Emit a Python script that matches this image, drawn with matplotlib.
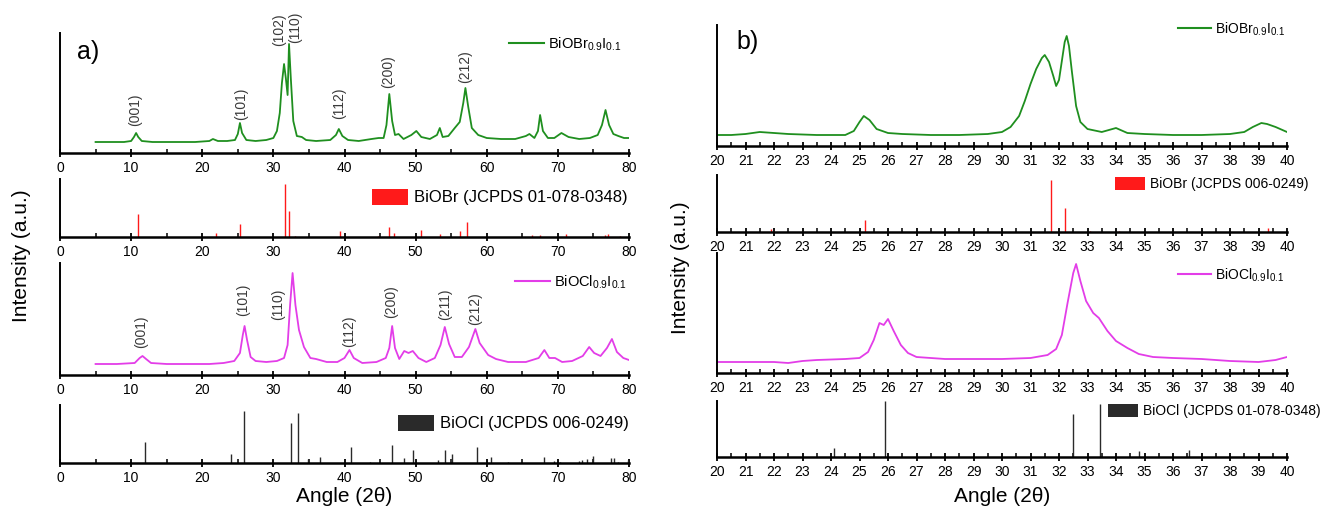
import matplotlib
matplotlib.use('Agg')
import matplotlib.pyplot as plt
from matplotlib.lines import Line2D
from matplotlib.patches import Patch
import numpy as np

plt.rcParams['font.family'] = ['Liberation Sans', 'DejaVu Sans']
plt.rcParams['mathtext.default'] = 'regular'

# ---------------- data ----------------
# panel a) 5-80 deg, measured patterns as (2theta, intensity a.u.)
a_br = [(5, 11), (7, 11), (9, 11), (10.0, 12), (10.4, 16), (10.7, 20), (11.0, 16), (11.5, 12),
        (13, 11), (16, 11), (19, 11), (21.0, 12), (21.5, 14), (22.2, 12), (23.5, 12), (24.6, 13),
        (25.0, 19), (25.3, 30), (25.6, 20), (26.2, 13), (27.5, 12), (29.0, 13), (30.0, 15),
        (30.5, 22), (30.9, 40), (31.2, 70), (31.5, 89), (31.75, 75), (32.0, 58), (32.2, 109),
        (32.45, 75), (32.8, 32), (33.3, 17), (34.0, 16), (34.6, 13), (36.0, 12), (38.0, 13),
        (38.8, 18), (39.2, 24), (39.7, 17), (40.5, 13), (42.0, 12), (43.8, 14), (44.8, 15),
        (45.5, 15), (45.9, 28), (46.3, 59), (46.7, 32), (47.1, 18), (47.6, 19), (48.3, 14),
        (49.4, 18), (50.1, 22), (50.8, 16), (52.0, 14), (53.0, 18), (53.4, 25), (53.8, 16),
        (54.6, 17), (55.5, 25), (56.2, 31), (56.7, 50), (57.0, 65), (57.4, 46), (57.9, 25),
        (58.8, 18), (60.0, 15), (62.0, 14), (64.0, 14), (65.5, 17), (66.0, 19), (66.7, 15),
        (67.2, 22), (67.5, 38), (67.9, 22), (68.6, 15), (69.5, 15), (70.5, 20), (71.5, 16),
        (73.0, 14), (74.5, 15), (75.6, 18), (76.2, 28), (76.7, 43), (77.2, 28), (77.8, 19),
        (78.5, 17), (79.3, 15), (80.0, 15)]

a_cl = [(5, 11), (8, 11), (10.5, 12), (11.2, 17), (11.6, 19), (12.1, 16), (12.8, 12), (15, 11),
        (18, 11), (21, 11), (23, 12), (24.5, 14), (25.3, 22), (25.7, 40), (25.95, 49), (26.3, 35),
        (26.8, 18), (27.5, 14), (29, 13), (30.5, 14), (31.5, 17), (32.0, 30), (32.35, 70),
        (32.7, 102), (33.1, 70), (33.6, 45), (34.3, 28), (35.2, 17), (36.0, 16), (37.5, 13),
        (39.0, 13), (40.0, 17), (40.7, 25), (41.3, 17), (42.5, 12), (44.5, 13), (45.8, 17),
        (46.3, 27), (46.7, 49), (47.1, 27), (47.7, 16), (48.4, 24), (49.0, 22), (49.6, 24),
        (50.4, 17), (51.5, 13), (52.7, 17), (53.5, 30), (54.1, 48), (54.7, 31), (55.5, 18),
        (56.5, 18), (57.5, 28), (58.4, 46), (59.0, 32), (60.2, 20), (61.3, 16), (63.0, 13),
        (65.5, 13), (67.3, 17), (68.1, 25), (68.8, 17), (69.6, 17), (70.6, 13), (72.0, 14),
        (73.5, 19), (74.4, 28), (75.1, 22), (76.0, 19), (76.9, 27), (77.6, 36), (78.3, 23),
        (79.2, 17), (80.0, 15)]

# reference patterns (stick positions and relative heights)
a_br_ref_angle = [10.9, 22.0, 25.3, 31.7, 32.2, 33.1, 39.3, 44.7, 46.2, 46.9,
                  50.7, 53.4, 56.2, 57.2, 66.3, 67.5, 71.1, 76.6, 77.0, 78.8]
a_br_ref_int = [23, 4, 13, 53, 26, 1, 6, 1, 10, 4, 7, 3, 6, 15, 2, 2, 3, 2, 3, 1]

a_cl_ref_angle = [12.0, 24.1, 25.9, 32.5, 33.5, 34.9, 36.5, 40.9, 43.6, 46.7,
                  48.3, 49.7, 53.2, 54.1, 55.1, 58.6, 60.6, 63.0, 68.1, 69.5,
                  70.3, 72.9, 73.4, 74.1, 75.0, 77.4, 77.9, 78.5, 79.9]
a_cl_ref_int = [21, 9, 52, 40, 50, 4, 6, 16, 1, 18, 5, 13, 3, 13, 9, 16, 6, 1, 6, 2,
                1, 2, 3, 4, 7, 5, 5, 1, 3]

# Miller indices (label, x, y)
a_br_hkl = [('(001)', 10.6, 43), ('(101)', 25.4, 49), ('(102)', 30.8, 123), ('(110)', 33.0, 126),
            ('(112)', 39.3, 50), ('(200)', 46.2, 81), ('(212)', 56.9, 86)]
a_cl_hkl = [('(001)', 11.4, 43), ('(101)', 25.8, 75), ('(110)', 30.7, 71), ('(112)', 40.6, 44),
            ('(200)', 46.6, 73), ('(211)', 54.2, 71), ('(212)', 58.4, 66)]

# panel b) zoom 20-40 deg
b_br = [(20.0, 11), (20.5, 11), (21.0, 12), (21.5, 14), (22.0, 13), (22.5, 12), (23.5, 11),
        (24.5, 11), (24.8, 15), (25.0, 24), (25.15, 30), (25.35, 26), (25.6, 17), (26.0, 13),
        (26.5, 12), (27.5, 11), (28.5, 11), (29.5, 12), (30.0, 14), (30.3, 19), (30.6, 30),
        (30.8, 45), (31.0, 62), (31.2, 77), (31.4, 88), (31.5, 91), (31.65, 84), (31.8, 70),
        (31.9, 60), (32.0, 66), (32.1, 85), (32.2, 104), (32.27, 110), (32.35, 100), (32.45, 75),
        (32.6, 40), (32.75, 24), (33.0, 17), (33.5, 14), (34.0, 18), (34.4, 13), (35.0, 12),
        (36.0, 11), (37.0, 11), (38.0, 12), (38.5, 14), (38.8, 19), (39.1, 23), (39.3, 22),
        (39.6, 19), (40.0, 14)]

b_cl = [(20.0, 11), (21.0, 11), (22.0, 11), (22.5, 10), (23.0, 12), (23.5, 13), (24.5, 14),
        (25.0, 15), (25.3, 21), (25.5, 33), (25.7, 50), (25.85, 48), (26.0, 54), (26.2, 42),
        (26.45, 28), (26.7, 20), (27.0, 16), (28.0, 14), (29.0, 14), (30.0, 14), (31.0, 15),
        (31.6, 18), (31.9, 24), (32.1, 38), (32.3, 70), (32.5, 100), (32.6, 109), (32.75, 92),
        (32.95, 72), (33.2, 60), (33.4, 55), (33.7, 42), (34.0, 32), (34.4, 25), (34.8, 19),
        (35.3, 16), (36.0, 15), (37.0, 14), (38.0, 12), (39.0, 11), (39.6, 13), (40.0, 16)]

b_br_ref_angle = [21.9, 25.2, 31.72, 32.22, 33.1, 34.1, 39.35]
b_br_ref_int = [3, 12, 52, 24, 1, 1, 4]
b_cl_ref_angle = [24.1, 25.9, 32.5, 33.45, 34.8, 36.55]
b_cl_ref_int = [9, 56, 43, 53, 6, 7]

br_label = 'BiOBr$_{0.9}$I$_{0.1}$'
cl_label = 'BiOCl$_{0.9}$I$_{0.1}$'
a_br_ref_label = 'BiOBr (JCPDS 01-078-0348)'
a_cl_ref_label = 'BiOCl (JCPDS 006-0249)'
b_br_ref_label = 'BiOBr (JCPDS 006-0249)'
b_cl_ref_label = 'BiOCl (JCPDS 01-078-0348)'

GREEN = '#1f8f1f'
MAGENTA = '#e33de8'
RED = '#ff1a1a'
BLACK = '#2a2a2a'

W, H = 1320, 515
fig = plt.figure(figsize=(W / 100, H / 100), dpi=100)


def panel(x0, x1, top, base, xmin, xmax, major, minor, ymax):
    ax = fig.add_axes([x0 / W, 1 - base / H, (x1 - x0) / W, (base - top) / H])
    ax.set_xlim(xmin, xmax)
    ax.set_ylim(0, ymax)
    for s in ['top', 'right']:
        ax.spines[s].set_visible(False)
    ax.spines['left'].set_linewidth(1.4)
    ax.spines['bottom'].set_linewidth(1.8)
    ax.set_yticks([])
    ax.set_xticks(np.arange(xmin, xmax + 0.01, major))
    ax.set_xticks(np.arange(xmin, xmax + 0.01, minor), minor=True)
    ax.tick_params(axis='x', which='major', direction='inout', length=6, width=1.3,
                   labelsize=10, pad=3)
    ax.tick_params(axis='x', which='minor', direction='in', length=3, width=1.1)
    return ax


def curve(ax, pts, color, label, lx, ly, fs):
    x, y = zip(*pts)
    ax.plot(x, y, color=color, lw=1.3)
    h = Line2D([], [], color=color, lw=1.5)
    ax.legend([h], [label], loc='center left', bbox_to_anchor=(lx / W, 1 - ly / H),
              bbox_transform=fig.transFigure, frameon=False, fontsize=fs,
              handlelength=2.4, handletextpad=0.25, borderpad=0, borderaxespad=0)


def sticks(ax, xs, ys, color, label, lx, ly, fs):
    ax.vlines(xs, 0, ys, color=color, lw=1.0)
    h = Patch(facecolor=color, edgecolor='none')
    ax.legend([h], [label], loc='center left', bbox_to_anchor=(lx / W, 1 - ly / H),
              bbox_transform=fig.transFigure, frameon=False, fontsize=fs,
              handlelength=2.15, handleheight=1.1, handletextpad=0.35,
              borderpad=0, borderaxespad=0)


def hkl(ax, items):
    for t, x, y in items:
        ax.text(x, y, t, rotation=90, ha='center', va='center', fontsize=10,
                color='#3a3a3a', clip_on=False)


# ---- panel a) ----
ax1 = panel(60, 629, 33, 153, 0, 80, 10, 5, 120)
curve(ax1, a_br, GREEN, br_label, 509, 44, 10.5)
hkl(ax1, a_br_hkl)
ax2 = panel(60, 629, 179, 237, 0, 80, 10, 5, 58)
sticks(ax2, a_br_ref_angle, a_br_ref_int, RED, a_br_ref_label, 372, 197, 12)
ax3 = panel(60, 629, 263, 375, 0, 80, 10, 5, 112)
curve(ax3, a_cl, MAGENTA, cl_label, 515, 282, 10.5)
hkl(ax3, a_cl_hkl)
ax4 = panel(60, 629, 405, 463, 0, 80, 10, 5, 58)
sticks(ax4, a_cl_ref_angle, a_cl_ref_int, BLACK, a_cl_ref_label, 398, 423, 12)

fig.text(77 / W, 1 - 52 / H, 'a)', fontsize=18, va='center', ha='left')
fig.text(22 / W, 1 - 256 / H, 'Intensity (a.u.)', rotation=90, fontsize=15,
         ha='center', va='center')
fig.text(344 / W, 1 - 497 / H, 'Angle (2\u03b8)', fontsize=15, ha='center', va='center')

# ---- panel b) ----
bx1 = panel(717, 1287, 25, 146, 20, 40, 1, 0.5, 121)
curve(bx1, b_br, GREEN, br_label, 1178, 29, 10)
bx2 = panel(717, 1287, 175, 232, 20, 40, 1, 0.5, 57)
sticks(bx2, b_br_ref_angle, b_br_ref_int, RED, b_br_ref_label, 1115, 184, 10)
bx3 = panel(717, 1287, 253, 373, 20, 40, 1, 0.5, 120)
curve(bx3, b_cl, MAGENTA, cl_label, 1178, 275, 10)
bx4 = panel(717, 1287, 401, 457, 20, 40, 1, 0.5, 56)
sticks(bx4, b_cl_ref_angle, b_cl_ref_int, BLACK, b_cl_ref_label, 1108, 411, 10)

fig.text(736 / W, 1 - 42 / H, 'b)', fontsize=18, va='center', ha='left')
fig.text(680 / W, 1 - 268 / H, 'Intensity (a.u.)', rotation=90, fontsize=15,
         ha='center', va='center')
fig.text(1002 / W, 1 - 497 / H, 'Angle (2\u03b8)', fontsize=15, ha='center', va='center')

fig.savefig('out.png', dpi=100)
